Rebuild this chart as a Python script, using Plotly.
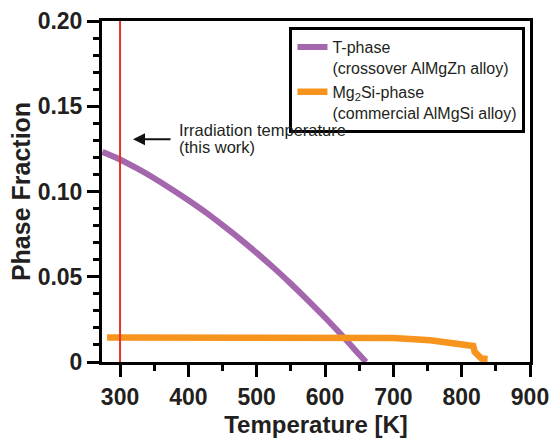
import plotly.graph_objects as go

# ---- data ----
t_phase_T = [274, 300, 325, 350, 375, 400, 425, 450, 475, 500, 525, 550, 575, 600, 625, 650, 660]
t_phase_frac = [0.1233, 0.1188, 0.1135, 0.1078, 0.1015, 0.0949, 0.0879, 0.0803, 0.0724, 0.0640,
                0.0552, 0.0459, 0.0362, 0.0261, 0.0155, 0.0044, 0.0]

mg2si_T = [281, 400, 500, 600, 700, 754, 783, 812, 817, 819, 824, 829, 838]
mg2si_frac = [0.0143, 0.0143, 0.0143, 0.0143, 0.0141, 0.0128, 0.0113, 0.0099, 0.0094, 0.0060, 0.0039, 0.0020, 0.0018]

irradiation_T = 300

y_tickvals = [0, 0.05, 0.10, 0.15, 0.20]
y_ticktext = ["0", "0.05", "0.10", "0.15", "0.20"]
x_tickvals = [300, 400, 500, 600, 700, 800, 900]

FONT = "Liberation Sans"
PURPLE = "#a466ad"
ORANGE = "#f7941d"
RED = "#e5322d"
TXT = "#231f20"

fig = go.Figure()
fig.add_trace(go.Scatter(
    x=t_phase_T, y=t_phase_frac, mode="lines", line=dict(color=PURPLE, width=6, shape="spline", smoothing=0.6),
    name="T-phase<br>(crossover AlMgZn alloy)"))
fig.add_trace(go.Scatter(
    x=mg2si_T, y=mg2si_frac, mode="lines", line=dict(color=ORANGE, width=6.5),
    name="Mg<sub>2</sub>Si-phase<br>(commercial AlMgSi alloy)"))

fig.add_shape(type="line", x0=irradiation_T, x1=irradiation_T, y0=0, y1=0.2,
              xref="x", yref="y", line=dict(color=RED, width=2), layer="above")

# annotation arrow + text
fig.add_annotation(x=319, y=0.1307, ax=39, ay=0, xref="x", yref="y", text="",
                   showarrow=True, arrowhead=2, arrowsize=1.2, arrowwidth=2, arrowcolor="#111")
fig.add_annotation(x=383, y=0.1360, xref="x", yref="y", text="Irradiation temperature",
                   showarrow=False, xanchor="left", yanchor="middle",
                   font=dict(family=FONT, size=16.5, color=TXT))
fig.add_annotation(x=383, y=0.1262, xref="x", yref="y", text="(this work)",
                   showarrow=False, xanchor="left", yanchor="middle",
                   font=dict(family=FONT, size=16.5, color=TXT))

axis_common = dict(
    showline=True, linecolor="black", linewidth=3, mirror=True,
    ticks="outside", ticklen=12, tickwidth=3, tickcolor="black",
    showgrid=False, zeroline=False, automargin=False,
    tickfont=dict(family=FONT, size=23, color=TXT, weight="bold"),
)

fig.update_xaxes(
    range=[273.6, 900], tickvals=x_tickvals,
    minor=dict(ticks="outside", ticklen=6, tickwidth=3, tickcolor="black", dtick=50, tick0=300),
    title=dict(text="Temperature [K]", font=dict(family=FONT, size=24, color=TXT, weight="bold"), standoff=15),
    **axis_common)
fig.update_yaxes(
    range=[0, 0.2], tickvals=y_tickvals, ticktext=y_ticktext,
    minor=dict(ticks="outside", ticklen=6, tickwidth=3, tickcolor="black", dtick=0.01, tick0=0),
    title=dict(text="Phase Fraction", font=dict(family=FONT, size=25, color=TXT, weight="bold"), standoff=0),
    **axis_common)

fig.update_layout(
    width=554, height=438,
    margin=dict(l=102, r=24, t=21, b=76),
    plot_bgcolor="white", paper_bgcolor="white",
    legend=dict(x=0.438, y=0.982, xanchor="left", yanchor="top",
                bgcolor="white", bordercolor="black", borderwidth=3,
                font=dict(family=FONT, size=16, color=TXT),
                valign="top", tracegroupgap=0),
)

fig.write_html("out.html")
